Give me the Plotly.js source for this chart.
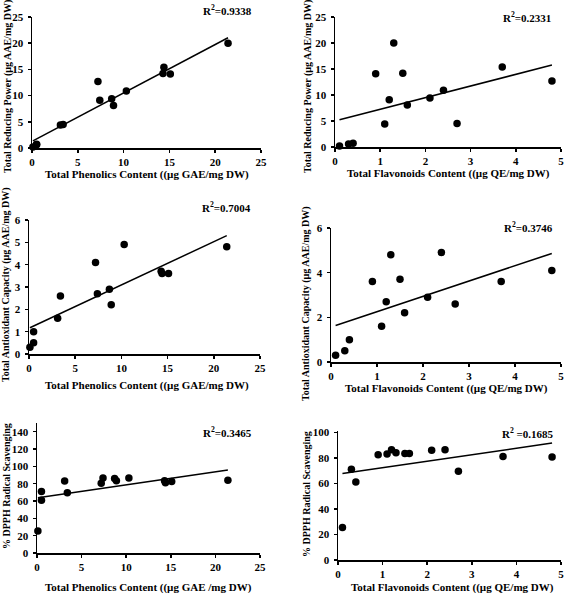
<!DOCTYPE html>
<html>
<head>
<meta charset="utf-8">
<script src="https://cdn.plot.ly/plotly-3.0.1.min.js"></script>
<style>
  html, body { margin: 0; padding: 0; background: #fff; }
  #chart { width: 567px; height: 593px; }
</style>
</head>
<body>
<div id="chart"></div>
<script>
// ---- Data (14 samples) ----
const phenolics      = [0.1, 0.5, 0.5, 3.1, 3.4, 7.2, 7.4, 8.7, 8.9, 10.3, 14.3, 14.4, 15.1, 21.4];
const flavonoids     = [0.1, 0.3, 0.4, 1.1, 2.7, 4.8, 1.2, 2.1, 1.6, 2.4, 1.5, 3.7, 0.9, 1.3];
const reducingPower  = [0.2, 0.6, 0.7, 4.4, 4.5, 12.7, 9.1, 9.4, 8.1, 10.9, 14.2, 15.4, 14.1, 20.0];
const antioxidantCap = [0.3, 0.5, 1.0, 1.6, 2.6, 4.1, 2.7, 2.9, 2.2, 4.9, 3.7, 3.6, 3.6, 4.8];
const dpph           = [25.4, 71, 61, 83, 69.4, 80.6, 86.4, 86, 83.3, 86.4, 83.3, 81, 82.5, 84];

const r2Labels = ["0.9338", "0.2331", "0.7004", "0.3746", "0.3465", "0.1685"];
const r2Sep    = ["=", "=", "=", "=", "=", " =" ];

const xTitlePhen = "Total Phenolics Content ((µg GAE/mg DW)";
const xTitlePhen3 = "Total Phenolics Content ((µg GAE /mg DW)";
const xTitleFlav = "Total Flavonoids Content ((µg QE/mg DW)";
const yTitleRP  = "Total Reducing Power (µg AAE/mg DW)";
const yTitleTAC = "Total Antioxidant Capacity (µg AAE/mg DW)";
const yTitleDPPH = "% DPPH Radical Scavenging";

// ---- Layout helpers ----
const W = 567, H = 593;
const px = v => v / W;
const py = v => 1 - v / H;

const FONT = "Liberation Serif";

function fit(xs, ys) {
  const n = xs.length;
  const mx = xs.reduce((a, b) => a + b, 0) / n;
  const my = ys.reduce((a, b) => a + b, 0) / n;
  let sxy = 0, sxx = 0;
  for (let i = 0; i < n; i++) { sxy += (xs[i] - mx) * (ys[i] - my); sxx += (xs[i] - mx) ** 2; }
  const b = sxy / sxx, a = my - b * mx;
  const x0 = Math.min(...xs), x1 = Math.max(...xs);
  return { x: [x0, x1], y: [a + b * x0, a + b * x1] };
}

const panels = [
  { xs: phenolics,  ys: reducingPower,  xr: [0, 25], yr: [0, 25],  xd: 5, yd: 5,  xpx: [32, 261],  ypx: [17, 148],
    xt: xTitlePhen, xtp: [147, 175], yt: yTitleRP,  ytp: [8, 87],   r2p: [227, 10] },
  { xs: flavonoids, ys: reducingPower,  xr: [0, 5],  yr: [0, 25],  xd: 1, yd: 5,  xpx: [335, 561], ypx: [17, 147],
    xt: xTitleFlav, xtp: [448, 174], yt: yTitleRP,  ytp: [308, 87], r2p: [527, 17] },
  { xs: phenolics,  ys: antioxidantCap, xr: [0, 25], yr: [0, 6],   xd: 5, yd: 1,  xpx: [29, 260],  ypx: [220, 354],
    xt: xTitlePhen, xtp: [147, 385], yt: yTitleTAC, ytp: [6, 285],  r2p: [226, 207] },
  { xs: flavonoids, ys: antioxidantCap, xr: [0, 5],  yr: [0, 6],   xd: 1, yd: 2,  xpx: [331, 561], ypx: [228, 362],
    xt: xTitleFlav, xtp: [446, 388], yt: yTitleTAC, ytp: [306, 304], r2p: [528, 227] },
  { xs: phenolics,  ys: dpph,           xr: [0, 25], yr: [0, 150], xd: 5, yd: 20, xpx: [37, 260],  ypx: [423, 553],
    xt: xTitlePhen3, xtp: [148, 587], yt: yTitleDPPH, ytp: [7, 486], r2p: [227, 432] },
  { xs: flavonoids, ys: dpph,           xr: [0, 5],  yr: [0, 101], xd: 1, yd: 20, xpx: [338, 561], ypx: [431, 560],
    xt: xTitleFlav, xtp: [452, 587], yt: yTitleDPPH, ytp: [306, 494], r2p: [528, 433] }
];

const traces = [];
const layout = {
  width: W, height: H,
  margin: { l: 0, r: 0, t: 0, b: 0 },
  paper_bgcolor: "#fff", plot_bgcolor: "rgba(0,0,0,0)",
  showlegend: false,
  font: { family: FONT, color: "#000", size: 11 },
  annotations: []
};

panels.forEach((p, i) => {
  const k = i + 1;
  const xa = "x" + (k === 1 ? "" : k), ya = "y" + (k === 1 ? "" : k);
  traces.push({
    type: "scatter", mode: "markers", x: p.xs, y: p.ys, xaxis: xa, yaxis: ya,
    marker: { color: "#000", size: 7.5 }, cliponaxis: false, hoverinfo: "skip"
  });
  const f = fit(p.xs, p.ys);
  traces.push({
    type: "scatter", mode: "lines", x: f.x, y: f.y, xaxis: xa, yaxis: ya,
    line: { color: "#000", width: 1.5 }, cliponaxis: false, hoverinfo: "skip"
  });
  const axCommon = {
    showgrid: false, zeroline: false, showline: true, linecolor: "#000", linewidth: 1.5,
    ticks: "outside", ticklen: 3, tickwidth: 1.5, tickcolor: "#000",
    tickfont: { family: FONT, size: 11, color: "#000", weight: 700 },
    fixedrange: true
  };
  layout["xaxis" + (k === 1 ? "" : k)] = Object.assign({}, axCommon, {
    domain: [px(p.xpx[0]), px(p.xpx[1])], range: p.xr, dtick: p.xd, tick0: 0,
    anchor: ya, ticklabelstandoff: 0
  });
  layout["yaxis" + (k === 1 ? "" : k)] = Object.assign({}, axCommon, {
    domain: [py(p.ypx[1]), py(p.ypx[0])], range: p.yr, dtick: p.yd, tick0: 0,
    anchor: xa, ticklabelstandoff: 2
  });
  const tf = { family: FONT, size: 11, color: "#000", weight: 700 };
  const yf = { family: FONT, size: 10, color: "#000", weight: 700 };
  layout.annotations.push({
    xref: "paper", yref: "paper", x: px(p.xtp[0]), y: py(p.xtp[1]),
    text: p.xt, showarrow: false, font: tf, xanchor: "center", yanchor: "middle"
  });
  layout.annotations.push({
    xref: "paper", yref: "paper", x: px(p.ytp[0]), y: py(p.ytp[1]),
    text: p.yt, showarrow: false, font: yf, textangle: -90, xanchor: "center", yanchor: "middle"
  });
  layout.annotations.push({
    xref: "paper", yref: "paper", x: px(p.r2p[0]), y: py(p.r2p[1]),
    text: "R<sup>2</sup>" + r2Sep[i] + r2Labels[i], showarrow: false, font: tf,
    xanchor: "center", yanchor: "middle"
  });
});

Plotly.newPlot("chart", traces, layout, { staticPlot: true, displayModeBar: false });
</script>
</body>
</html>
